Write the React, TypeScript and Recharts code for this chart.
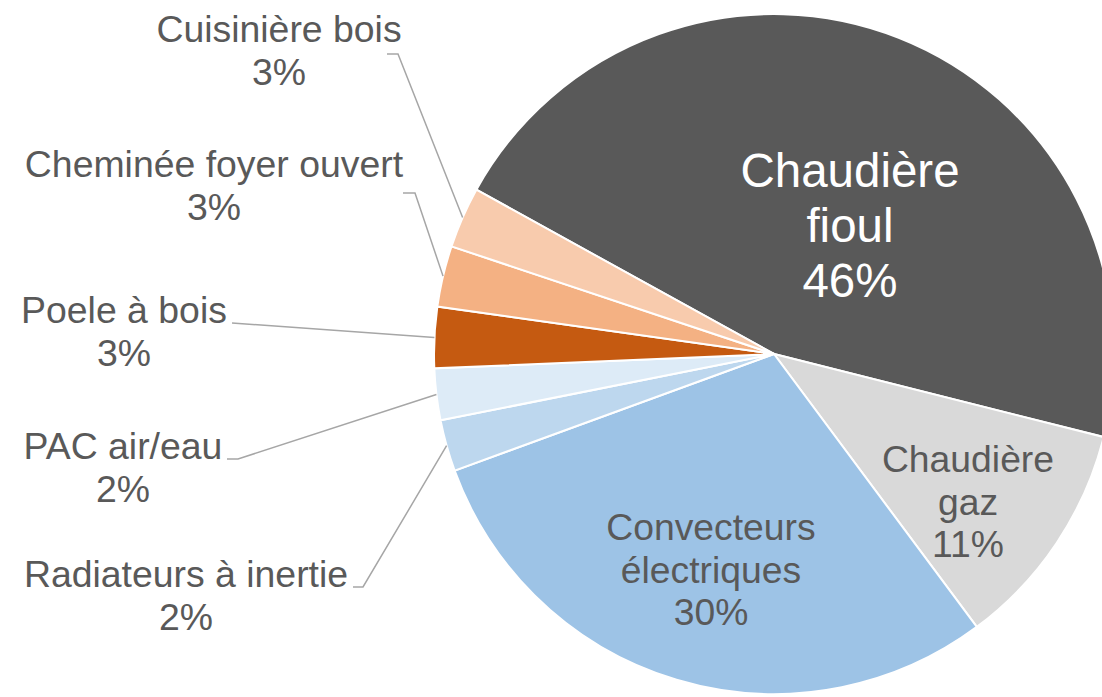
import { PieChart, Pie, Cell } from 'recharts';

const categories = [
  'Chaudière fioul',
  'Chaudière gaz',
  'Convecteurs électriques',
  'Radiateurs à inertie',
  'PAC air/eau',
  'Poele à bois',
  'Cheminée foyer ouvert',
  'Cuisinière bois',
];
const shares = [45.9, 10.9, 29.6, 2.45, 2.45, 2.9, 2.9, 2.9];
const colors = ['#595959', '#D9D9D9', '#9DC3E6', '#BDD7EE', '#DDEBF7', '#C55A11', '#F4B183', '#F8CBAD'];

const data = categories.map((name, i) => ({ name, value: shares[i] }));

const FONT = '"Liberation Sans", Arial, sans-serif';
const TEXT = '#595959';
const CX = 774;
const CY = 354;
const R = 340;
const RAD = Math.PI / 180;

// label placement, offsets from the pie centre
type Inside = { kind: 'in'; dx: number; dy: number; size: number; lh: number; fill: string };
type Outside = { kind: 'out'; dx: number; dy: number; elbowX: number; endX: number; lineY: number };
const layout: Record<string, Inside | Outside> = {
  'Chaudière fioul': { kind: 'in', dx: 76, dy: -167, size: 47.5, lh: 55, fill: '#ffffff' },
  'Chaudière gaz': { kind: 'in', dx: 194, dy: 118, size: 37.3, lh: 42.5, fill: TEXT },
  'Convecteurs électriques': { kind: 'in', dx: -63, dy: 186, size: 37.3, lh: 42.5, fill: TEXT },
  'Radiateurs à inertie': { kind: 'out', dx: -588, dy: 233, elbowX: -411, endX: -421, lineY: 233 },
  'PAC air/eau': { kind: 'out', dx: -651, dy: 105, elbowX: -536, endX: -547, lineY: 105 },
  'Poele à bois': { kind: 'out', dx: -650, dy: -31, elbowX: -542, endX: -542, lineY: -31 },
  'Cheminée foyer ouvert': { kind: 'out', dx: -560, dy: -177, elbowX: -359, endX: -371, lineY: -161 },
  'Cuisinière bois': { kind: 'out', dx: -495, dy: -312, elbowX: -376, endX: -387, lineY: -300 },
};

const renderLabel = (props: any) => {
  const { cx, cy, midAngle, outerRadius, percent, name } = props;
  const cfg = layout[name];
  if (!cfg) return null;
  const pct = `${Math.round(percent * 100)}%`;
  if (cfg.kind === 'in') {
    const words = name.split(' ');
    const lines = [...words, pct];
    return (
      <text
        x={cx + cfg.dx}
        y={cy + cfg.dy}
        textAnchor="middle"
        fill={cfg.fill}
        fontSize={cfg.size}
        fontFamily={FONT}
      >
        {lines.map((l: string, i: number) => (
          <tspan key={i} x={cx + cfg.dx} dy={i === 0 ? 0 : cfg.lh}>
            {l}
          </tspan>
        ))}
      </text>
    );
  }
  const ex = cx + outerRadius * Math.cos(-midAngle * RAD);
  const ey = cy + outerRadius * Math.sin(-midAngle * RAD);
  const pts = `${ex},${ey} ${cx + cfg.elbowX},${cy + cfg.lineY} ${cx + cfg.endX},${cy + cfg.lineY}`;
  return (
    <g>
      <polyline points={pts} fill="none" stroke="#A6A6A6" strokeWidth={1.5} />
      <text x={cx + cfg.dx} y={cy + cfg.dy} textAnchor="middle" fill={TEXT} fontSize={37.4} fontFamily={FONT}>
        <tspan x={cx + cfg.dx} dy={0}>{name}</tspan>
        <tspan x={cx + cfg.dx} dy={43}>{pct}</tspan>
      </text>
    </g>
  );
};

export default function App() {
  return (
    <div style={{ position: 'absolute', left: 0, top: 0, width: 1102, height: 697, overflow: 'hidden', background: '#fff' }}>
      <PieChart width={1102} height={697} margin={{ top: 0, right: 0, bottom: 0, left: 0 }}>
        <Pie
          data={data}
          dataKey="value"
          nameKey="name"
          cx={CX}
          cy={CY}
          outerRadius={R}
          startAngle={151.1}
          endAngle={-208.9}
          stroke="#ffffff"
          strokeWidth={2}
          label={renderLabel}
          labelLine={false}
          isAnimationActive={false}
        >
          {data.map((d, i) => (
            <Cell key={d.name} fill={colors[i]} />
          ))}
        </Pie>
      </PieChart>
    </div>
  );
}
